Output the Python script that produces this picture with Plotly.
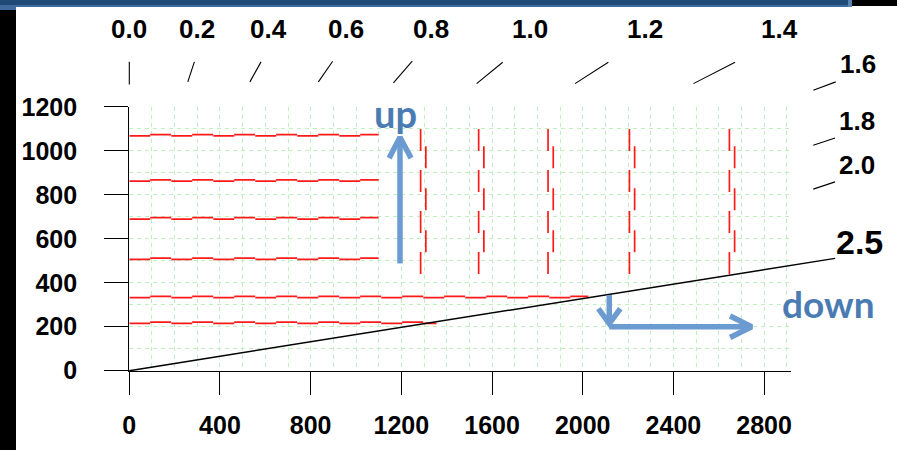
import plotly.graph_objects as go

# ---------------- data ----------------
x_ticks = [0, 400, 800, 1200, 1600, 2000, 2400, 2800]
y_ticks = [0, 200, 400, 600, 800, 1000, 1200]

# horizontal red dashed lines (level, end x)
h_levels = [1068, 862, 690, 506, 332, 215]
h_ends = [1100, 1100, 1100, 1100, 2025, 1355]

# vertical red dashed lines
v_positions = [1285, 1541, 1847, 2206, 2647]
v_top = 1100
v_bottom = 435
v_inner_top = 1021
v_inner_bottom = 534

# slope reference line "2.5"
ref_x = [0, 3113]
ref_y = [0, 511]

# slope scale ticks
slope_labels = ["0.0", "0.2", "0.4", "0.6", "0.8", "1.0", "1.2", "1.4", "1.6", "1.8", "2.0"]
seg_x0 = [0, 258, 532, 834, 1165, 1532, 1966, 2488, 3017, 3017, 3017]
seg_y0 = [1302, 1314, 1314, 1314, 1309, 1306, 1306, 1306, 1276, 1026, 826]
seg_x1 = [0, 287, 581, 897, 1248, 1647, 2113, 2672, 3116, 3113, 3113]
seg_y1 = [1405, 1405, 1405, 1408, 1408, 1403, 1403, 1403, 1314, 1059, 859]
label_x = [0, 299, 616, 956, 1331, 1768, 2275, 2870, 3214, 3210, 3210]
label_y = [1553, 1553, 1553, 1553, 1553, 1553, 1553, 1553, 1394, 1135, 935]
ref_label = "2.5"
ref_label_xy = (3219, 586)

# arrows
up_shaft_x = [1194, 1194]
up_shaft_y = [488, 1062]
up_head_x = [1146, 1194, 1243]
up_head_y = [967, 1062, 967]
down_shaft_x = [2117, 2117]
down_shaft_y = [344, 214]
down_head_x = [2069, 2117, 2166]
down_head_y = [282, 214, 282]
right_shaft_x = [2117, 2745]
right_shaft_y = [200, 200]
right_head_x = [2650, 2745, 2650]
right_head_y = [249, 200, 151]
up_text_xy = (1172, 1172)
down_text_xy = (3082, 305)

# ---------------- geometry ----------------
W, H = 897, 450
PL, PR, PB, PT = 129.3, 791.3, 370.7, 106.7   # main plot box in pixels
x_range = [0, 2920]
y_range = [0, 1201]
kx = (PR - PL) / (x_range[1] - x_range[0])
ky = (PB - PT) / (y_range[1] - y_range[0])
x2_range = [x_range[0] - PL / kx, x_range[1] + (W - PR) / kx]
y2_range = [y_range[0] - (H - PB) / ky, y_range[1] + PT / ky]

RED = "#ff1a1a"
GRID = "#c0f0c0"
BLUE = "#6b9bd0"
BLUE_TXT = "#4a7cb3"
TICKFONT = dict(family="Liberation Sans, Arial", size=25, color="black", weight="bold")

fig = go.Figure()

# red horizontal lines (two offset dashed strokes give the stepped look)
for lvl, end in zip(h_levels, h_ends):
    fig.add_trace(go.Scatter(x=[0, end], y=[lvl, lvl], mode="lines",
                             line=dict(color=RED, width=1.8, dash="21px,21px"),
                             xaxis="x", yaxis="y", hoverinfo="skip", showlegend=False))
    fig.add_trace(go.Scatter(x=[92, end], y=[lvl + 6, lvl + 6], mode="lines",
                             line=dict(color=RED, width=1.8, dash="21px,21px"),
                             xaxis="x", yaxis="y", hoverinfo="skip", showlegend=False))

# red vertical lines
for p in v_positions:
    fig.add_trace(go.Scatter(x=[p, p], y=[v_top, v_bottom], mode="lines",
                             line=dict(color=RED, width=1.7, dash="22px,19px"),
                             xaxis="x", yaxis="y", hoverinfo="skip", showlegend=False))
    fig.add_trace(go.Scatter(x=[p + 23, p + 23], y=[v_inner_top, v_inner_bottom], mode="lines",
                             line=dict(color=RED, width=1.7, dash="22px,20px"),
                             xaxis="x", yaxis="y", hoverinfo="skip", showlegend=False))

# black reference line
fig.add_trace(go.Scatter(x=ref_x, y=ref_y, mode="lines", line=dict(color="black", width=1.5),
                         xaxis="x2", yaxis="y2", hoverinfo="skip", showlegend=False))

# slope scale segments
for a, b, c, d in zip(seg_x0, seg_y0, seg_x1, seg_y1):
    fig.add_trace(go.Scatter(x=[a, c], y=[b, d], mode="lines", line=dict(color="black", width=1.1),
                             xaxis="x2", yaxis="y2", hoverinfo="skip", showlegend=False))

# arrows
for xs, ys in [(up_shaft_x, up_shaft_y), (up_head_x, up_head_y),
               (down_shaft_x, down_shaft_y), (down_head_x, down_head_y),
               (right_shaft_x, right_shaft_y), (right_head_x, right_head_y)]:
    fig.add_trace(go.Scatter(x=xs, y=ys, mode="lines", line=dict(color=BLUE, width=5.5),
                             xaxis="x2", yaxis="y2", hoverinfo="skip", showlegend=False))

annotations = []
for t, lx, ly in zip(slope_labels, label_x, label_y):
    annotations.append(dict(x=lx, y=ly, xref="x2", yref="y2", text=t, showarrow=False,
                            xanchor="center", yanchor="middle",
                            font=dict(family="Liberation Sans, Arial", size=26, color="black", weight="bold")))
annotations.append(dict(x=ref_label_xy[0], y=ref_label_xy[1], xref="x2", yref="y2", text=ref_label,
                        showarrow=False, xanchor="center", yanchor="middle",
                        font=dict(family="Liberation Sans, Arial", size=34, color="black", weight="bold")))
annotations.append(dict(x=up_text_xy[0], y=up_text_xy[1], xref="x2", yref="y2", text="up",
                        showarrow=False, xanchor="center", yanchor="middle",
                        font=dict(family="Lato", size=38, color=BLUE_TXT, weight="bold")))
annotations.append(dict(x=down_text_xy[0], y=down_text_xy[1], xref="x2", yref="y2", text="down",
                        showarrow=False, xanchor="center", yanchor="middle",
                        font=dict(family="Lato", size=37, color=BLUE_TXT, weight="bold")))

shapes = [
    # frame decorations
    dict(type="rect", xref="paper", yref="paper", x0=0, x1=848 / W, y0=1 - 5 / H, y1=1,
         fillcolor="#1f4a77", line=dict(width=0), layer="above"),
    dict(type="rect", xref="paper", yref="paper", x0=0, x1=848 / W, y0=1 - 7 / H, y1=1 - 5 / H,
         fillcolor="#3f6a9c", line=dict(width=0), layer="above"),
    dict(type="rect", xref="paper", yref="paper", x0=0, x1=16 / W, y0=1 - 10 / H, y1=1 - 5 / H,
         fillcolor="#3f6a9c", line=dict(width=0), layer="above"),
    dict(type="rect", xref="paper", yref="paper", x0=848 / W, x1=852 / W, y0=1 - 7 / H, y1=1,
         fillcolor="#5a82b0", line=dict(width=0), layer="above"),
    dict(type="rect", xref="paper", yref="paper", x0=852 / W, x1=1, y0=1 - 6 / H, y1=1,
         fillcolor="black", line=dict(width=0), layer="above"),
    dict(type="rect", xref="paper", yref="paper", x0=0, x1=16 / W, y0=0, y1=1 - 10 / H,
         fillcolor="black", line=dict(width=0), layer="above"),
]

grid_minor = dict(tickmode="linear", tick0=0, dtick=100, showgrid=True,
                  gridcolor=GRID, griddash="4px,4px", gridwidth=1, ticks="")

fig.update_layout(
    template="none",
    width=W, height=H,
    margin=dict(l=0, r=0, t=0, b=0, pad=0, autoexpand=False),
    paper_bgcolor="white", plot_bgcolor="rgba(0,0,0,0)",
    showlegend=False,
    annotations=annotations,
    shapes=shapes,
    xaxis=dict(domain=[PL / W, PR / W], range=x_range, anchor="y", automargin=False,
               tickmode="array", tickvals=x_ticks, ticktext=[str(v) for v in x_ticks],
               ticks="outside", ticklen=23, tickwidth=1.3, tickcolor="black",
               showline=True, linewidth=1.3, linecolor="black", zeroline=False,
               showgrid=True, gridcolor=GRID, griddash="4px,4px", gridwidth=1,
               minor=grid_minor, tickfont=TICKFONT, ticklabelstandoff=9, fixedrange=True),
    yaxis=dict(domain=[1 - PB / H, 1 - PT / H], range=y_range, anchor="x", automargin=False,
               tickmode="array", tickvals=y_ticks, ticktext=[str(v) for v in y_ticks],
               ticks="outside", ticklen=24, tickwidth=1.3, tickcolor="black",
               showline=True, linewidth=1.3, linecolor="black", zeroline=False,
               showgrid=True, gridcolor=GRID, griddash="4px,4px", gridwidth=1,
               minor=grid_minor, tickfont=TICKFONT, ticklabelstandoff=22, fixedrange=True),
    xaxis2=dict(domain=[0, 1], range=x2_range, anchor="y2", visible=False, fixedrange=True,
                automargin=False),
    yaxis2=dict(domain=[0, 1], range=y2_range, anchor="x2", visible=False, fixedrange=True,
                automargin=False),
)

fig.write_html("out.html",
               post_script="document.body.style.margin='0';document.body.style.padding='0';")
